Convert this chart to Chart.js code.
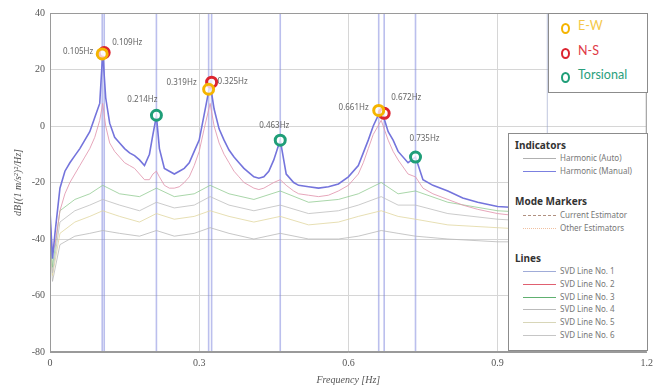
<!DOCTYPE html>
<html>
<head>
<meta charset="utf-8">
<script src="https://cdn.jsdelivr.net/npm/chart.js"></script>
<style>
body{margin:0;background:#fff}
#wrap{position:relative;width:658px;height:387px}
.box{position:absolute;background:#fff;border:1.5px solid #8c8c8c;box-sizing:border-box}
.row{position:absolute;white-space:nowrap}
.ring{position:absolute;width:9px;height:11px;border-radius:50%;box-sizing:border-box;border:2.5px solid}
.mode{font-family:Lato,sans-serif;font-size:12.5px}
.head{font-family:"Noto Sans",sans-serif;font-size:10px;font-weight:bold;color:#333}
.key{font-family:"Noto Sans",sans-serif;font-size:8px;color:#777}
.smp{position:absolute;width:33px;height:0;border-top:1px solid}
</style>
</head>
<body>
<div id="wrap">
<canvas id="myChart" width="658" height="387"></canvas>
<div class="box" id="modes" style="left:548px;top:13px;width:100px;height:80px"></div>
<div class="box" id="keys" style="left:508px;top:133px;width:140px;height:218px"></div>
</div>
<script>
// spectrum data (dB)
var freqs = [0, 0.005, 0.01, 0.02, 0.03, 0.04, 0.05, 0.06, 0.07, 0.08, 0.09, 0.1, 0.106, 0.112, 0.12, 0.13, 0.14, 0.15, 0.16, 0.17,
  0.18, 0.19, 0.2, 0.207, 0.214, 0.22, 0.23, 0.24, 0.25, 0.26, 0.27, 0.28, 0.29, 0.3, 0.31, 0.322, 0.33, 0.34, 0.35, 0.36,
  0.37, 0.38, 0.39, 0.4, 0.41, 0.42, 0.43, 0.44, 0.45, 0.463, 0.475, 0.49, 0.5, 0.52, 0.54, 0.56, 0.58, 0.6, 0.62, 0.63,
  0.64, 0.65, 0.666, 0.68, 0.69, 0.7, 0.72, 0.735, 0.75, 0.77, 0.8, 0.83, 0.86, 0.9, 0.95, 1.0, 1.05, 1.1, 1.15, 1.2];
var svd1 = [-30, -47, -38, -22, -16, -13, -10.5, -8, -5, -2, 3, 8, 26, 10, 1, -4, -6, -8, -9.5, -10.5,
  -12, -14, -10, -3, 3.5, -8, -15, -16, -17, -16, -15, -13, -9, -5, 4, 15, 6, -1, -5, -8.5,
  -11, -13, -15, -16.5, -18, -18.5, -18, -16, -12, -5, -17, -20, -21, -21.5, -22, -21.5, -20.5, -18, -14, -9.5,
  -5, 0, 6, -2, -5, -9, -13, -11, -19, -21, -23, -25.5, -27, -28.5, -29, -29.5, -30, -30, -30.5, -31];
var svd2 = [-32, -45, -42, -30, -24, -20, -17, -14, -11, -8, -4, 2, 8, 0, -6, -9, -11, -13, -14, -15,
  -17, -19, -19, -17, -16, -18, -21, -22, -22, -21.5, -20, -18, -14, -9, -1, 8, 0, -6, -10, -13,
  -16, -18, -20, -21, -22, -22.5, -22, -21, -20, -19, -21, -23, -24, -24.5, -25, -24.5, -23, -21, -17, -13,
  -8, -3, 2, -5, -9, -12, -17, -18, -22, -24, -26, -28, -29.5, -31, -32, -32.5, -33, -33, -33.5, -34];

var freqsLow = [0, 0.005, 0.02, 0.05, 0.08, 0.106, 0.14, 0.18, 0.214, 0.25, 0.29, 0.322, 0.36, 0.41, 0.463, 0.52,
  0.58, 0.62, 0.666, 0.7, 0.735, 0.8, 0.9, 1.0, 1.1, 1.2];
var svd3 = [-35, -50, -30, -26, -24, -21, -24, -25, -22, -25, -24, -21, -24, -26, -23, -27, -26, -24, -20, -24, -23, -27, -30, -31, -32, -33];
var svd4 = [-36, -52, -34, -30, -28, -26, -28, -30, -27, -29, -28, -25, -28, -30, -28, -31, -30, -28, -25, -28, -28, -31, -33, -34, -35, -35];
var svd5 = [-38, -53, -38, -34, -32, -30, -32, -34, -31, -33, -32, -30, -32, -34, -32, -35, -34, -32, -30, -32, -33, -35, -36, -37, -38, -38];
var svd6 = [-40, -55, -42, -39, -38, -37, -38, -39, -37, -39, -38, -36, -38, -40, -38, -40, -40, -39, -37, -38, -39, -40, -41, -41, -42, -42];

// picked modes
var ewFreq = [0.105, 0.319, 0.661];
var ewDb = [25.5, 13, 5.5];
var nsFreq = [0.109, 0.325, 0.672];
var nsDb = [26, 15.5, 4.5];
var torFreq = [0.214, 0.463, 0.735];
var torDb = [3.8, -5, -11];

// harmonic indicators
var manualFreqs = [0.105, 0.109, 0.214, 0.319, 0.325, 0.463, 0.661, 0.672, 0.735];
var autoFreqs = [1.0];

var xTicks = [0, 0.3, 0.6, 0.9, 1.2];
var yMin = -80, yMax = 40;

var modeNames = ["E-W", "N-S", "Torsional"];
var modeColors = ["#f5b400", "#dc2430", "#1f9e78"];
var modeTextColors = ["#f4c84a", "#e03a46", "#2aa07c"];
var svdNames = ["SVD Line No. 1", "SVD Line No. 2", "SVD Line No. 3", "SVD Line No. 4", "SVD Line No. 5", "SVD Line No. 6"];
var svdColors = ["#7474dc", "rgba(226,150,175,0.85)", "rgba(140,200,140,0.75)", "rgba(190,190,190,0.8)", "rgba(225,215,160,0.8)", "rgba(185,185,185,0.8)"];
var svdKeyColors = ["#a0acd8", "#e06070", "#60b070", "#bbbbbb", "#d8d6b8", "#c6c6c6"];

function pairs(xs, ys){
  return xs.map(function(x, i){ return {x: x, y: ys[i]}; });
}

var datasets = [];
var svdData = [[freqs, svd1], [freqs, svd2], [freqsLow, svd3], [freqsLow, svd4], [freqsLow, svd5], [freqsLow, svd6]];
svdData.forEach(function(d, i){
  datasets.push({
    label: svdNames[i], data: pairs(d[0], d[1]),
    borderColor: svdColors[i], borderWidth: i === 0 ? 1.6 : 1,
    pointRadius: 0, tension: 0, order: 2 + i
  });
});
manualFreqs.forEach(function(f){
  datasets.push({data: [{x: f, y: yMin}, {x: f, y: yMax}], borderColor: "rgba(120,128,220,0.5)", borderWidth: 1.6, pointRadius: 0, order: 20});
});
autoFreqs.forEach(function(f){
  datasets.push({data: [{x: f, y: yMin}, {x: f, y: yMax}], borderColor: "rgba(150,160,200,0.6)", borderWidth: 1, pointRadius: 0, order: 20});
});
var markerSets = [[ewFreq, ewDb], [nsFreq, nsDb], [torFreq, torDb]];
markerSets.forEach(function(m, i){
  datasets.push({
    label: modeNames[i], data: pairs(m[0], m[1]), showLine: false, isMarker: true,
    pointStyle: "circle", pointRadius: 5, pointBorderWidth: 3,
    pointBorderColor: modeColors[i], pointBackgroundColor: "rgba(255,255,255,0.75)", order: 0
  });
});

// label offsets per marker group: [dx, dy, align]
var labelOffsets = [
  [[-9, -2, "right"], [-12, -7, "right"], [-10, -3, "right"]],
  [[8, -10, "left"], [6, 0, "left"], [7, -16, "left"]],
  [[-14, -16, "center"], [-6, -14, "center"], [9, -18, "center"]]
];

var extras = {
  id: "extras",
  afterDatasetsDraw: function(chart){
    var ctx = chart.ctx, a = chart.chartArea;
    ctx.save();
    ctx.strokeStyle = "#9a9a9a";
    ctx.lineWidth = 1;
    ctx.strokeRect(a.left + 0.5, a.top + 0.5, a.right - a.left - 1, a.bottom - a.top - 1);
    ctx.font = "8px 'Noto Sans', sans-serif";
    ctx.fillStyle = "#666";
    ctx.textBaseline = "middle";
    var g = 0;
    chart.data.datasets.forEach(function(ds, di){
      if (!ds.isMarker) return;
      var meta = chart.getDatasetMeta(di);
      meta.data.forEach(function(p, i){
        var o = labelOffsets[g][i];
        ctx.textAlign = o[2];
        ctx.fillText(ds.data[i].x.toFixed(3) + "Hz", p.x + o[0], p.y + o[1]);
      });
      g++;
    });
    ctx.restore();
  }
};

new Chart("myChart", {
  type: "line",
  data: {datasets: datasets},
  plugins: [extras],
  options: {
    responsive: false,
    animation: false,
    layout: {padding: {top: 13, right: 8, left: 0, bottom: 0}},
    plugins: {legend: {display: false}, tooltip: {enabled: false}},
    scales: {
      x: {
        type: "linear", min: 0, max: 1.2,
        afterBuildTicks: function(s){ s.ticks = xTicks.map(function(v){ return {value: v}; }); },
        afterFit: function(s){ s.height = 35; },
        grid: {color: "#d6d6d6", drawTicks: false},
        border: {color: "#9a9a9a"},
        ticks: {padding: 5, color: "#555", font: {family: "'Liberation Serif', serif", size: 10},
          callback: function(v){ return String(+v.toFixed(1)); }},
        title: {display: true, text: "Frequency [Hz]", color: "#555",
          font: {family: "'Liberation Serif', serif", size: 10, style: "italic"}, padding: {top: 0, bottom: 1}}
      },
      y: {
        min: yMin, max: yMax,
        ticks: {stepSize: 20, padding: 5, color: "#555", font: {family: "'Liberation Serif', serif", size: 10}},
        afterFit: function(s){ s.width = 50; },
        grid: {color: "#d6d6d6", drawTicks: false},
        border: {color: "#9a9a9a"},
        title: {display: true, text: "dB[(1 m/s²)²/Hz]", color: "#555",
          font: {family: "'Liberation Serif', serif", size: 10, style: "italic"}, padding: {top: 12, bottom: 0}}
      }
    }
  }
});

// mode legend
var modesBox = document.getElementById("modes");
modeNames.forEach(function(n, i){
  var top = 9 + i * 24.5;
  modesBox.innerHTML += '<div class="ring" style="left:12px;top:' + top + 'px;border-color:' + modeColors[i] + '"></div>' +
    '<div class="row mode" style="left:29px;top:' + (top - 5) + 'px;color:' + modeTextColors[i] + '">' + n + '</div>';
});

// key legend
var keysBox = document.getElementById("keys");
function head(text, y){
  keysBox.innerHTML += '<div class="row head" style="left:6px;top:' + (y - 7) + 'px">' + text + '</div>';
}
function key(text, y, style){
  keysBox.innerHTML += '<div class="smp" style="left:14px;top:' + y + 'px;' + style + '"></div>' +
    '<div class="row key" style="left:51px;top:' + (y - 6) + 'px">' + text + '</div>';
}
head("Indicators", 11);
key("Harmonic (Auto)", 24, "border-top-color:#b0b0b0");
key("Harmonic (Manual)", 37, "border-top-color:#7b80e0");
head("Mode Markers", 67);
key("Current Estimator", 81, "border-top:1px dashed #b09080");
key("Other Estimators", 94, "border-top:1px dotted #f0c0a0");
head("Lines", 124);
svdNames.forEach(function(n, i){
  key(n, 137 + i * 12.8, "border-top-color:" + svdKeyColors[i]);
});
</script>
</body>
</html>
